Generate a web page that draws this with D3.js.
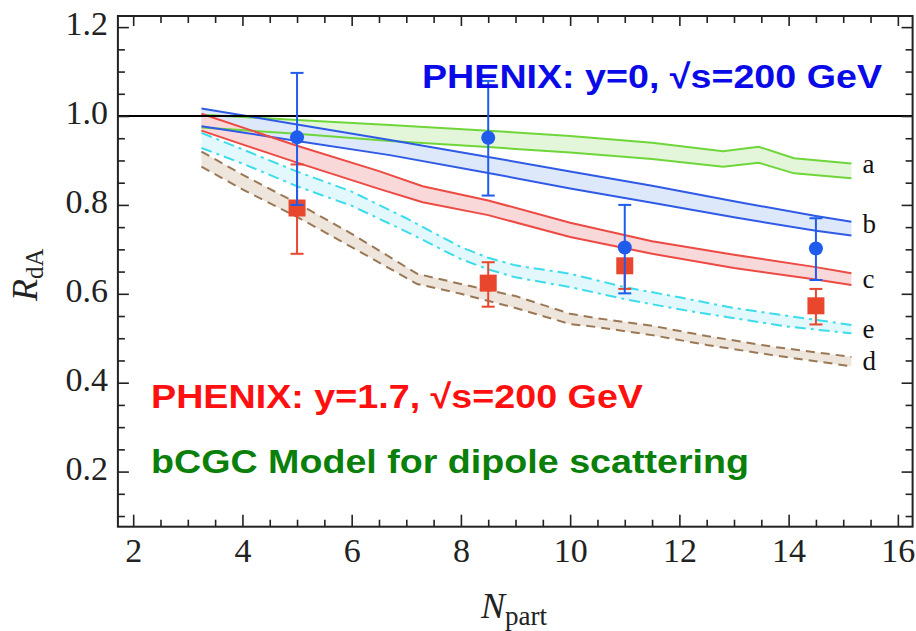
<!DOCTYPE html>
<html>
<head>
<meta charset="utf-8">
<script src="https://cdn.jsdelivr.net/npm/d3@7/dist/d3.min.js"></script>
<style>
  html, body { margin: 0; padding: 0; background: #fff; }
  svg { display: block; }
</style>
</head>
<body>
<svg id="chart" width="916" height="631"></svg>
<script>
// ---- axis ticks ----
const xMajorTicks = [2, 4, 6, 8, 10, 12, 14, 16];
const yMajorTicks = [0.2, 0.4, 0.6, 0.8, 1.0, 1.2];

// ---- bCGC model bands (upper / lower edge of each band) ----
const bandA_x  = [3.25, 5, 6.7, 8.5, 10, 11.5, 12.8, 13.45, 14.1, 15.15];
const bandA_hi = [1.003, 0.991, 0.980, 0.967, 0.955, 0.940, 0.921, 0.931, 0.905, 0.893];
const bandA_lo = [0.974, 0.960, 0.944, 0.930, 0.918, 0.903, 0.886, 0.895, 0.871, 0.860];

const bandB_x  = [3.25, 5, 6.7, 8.5, 10, 11.5, 13, 14.5, 15.15];
const bandB_hi = [1.017, 0.981, 0.946, 0.908, 0.875, 0.843, 0.808, 0.775, 0.762];
const bandB_lo = [0.977, 0.944, 0.912, 0.872, 0.837, 0.805, 0.772, 0.742, 0.731];

const bandC_x  = [3.25, 5, 6.5, 7.3, 8.5, 10, 11.5, 13, 14.5, 15.15];
const bandC_hi = [1.005, 0.933, 0.876, 0.842, 0.810, 0.760, 0.718, 0.688, 0.660, 0.646];
const bandC_lo = [0.967, 0.895, 0.836, 0.806, 0.777, 0.728, 0.690, 0.658, 0.632, 0.620];

const bandE_x  = [3.25, 4, 5, 6, 7, 8, 8.5, 9, 10, 11, 12, 13, 14, 15.15];
const bandE_hi = [0.962, 0.925, 0.875, 0.830, 0.770, 0.705, 0.681, 0.664, 0.645, 0.615, 0.592, 0.568, 0.550, 0.530];
const bandE_lo = [0.928, 0.893, 0.842, 0.798, 0.740, 0.678, 0.655, 0.637, 0.615, 0.588, 0.565, 0.545, 0.526, 0.511];

const bandD_x  = [3.25, 4, 5, 6, 7.2, 8, 9, 10, 10.5, 11.5, 12.5, 13.7, 15.15];
const bandD_hi = [0.920, 0.868, 0.804, 0.735, 0.645, 0.622, 0.595, 0.555, 0.545, 0.528, 0.505, 0.481, 0.458];
const bandD_lo = [0.886, 0.835, 0.773, 0.705, 0.622, 0.600, 0.568, 0.532, 0.525, 0.507, 0.485, 0.462, 0.437];

const bandLabels   = ["a", "b", "c", "e", "d"];
const bandLabelRdA = [0.889, 0.754, 0.630, 0.518, 0.446];   // vertical anchor of each label

// ---- PHENIX data ----
const phenixNpart = [5, 8.5, 11, 14.5];
const midRdA    = [0.952, 0.951, 0.704, 0.702];   // y = 0
const midErrHi  = [1.097, 1.079, 0.800, 0.770];
const midErrLo  = [0.800, 0.821, 0.601, 0.631];
const fwdRdA    = [0.793, 0.624, 0.663, 0.573];   // y = 1.7
const fwdErrHi  = [0.891, 0.671, 0.675, 0.611];
const fwdErrLo  = [0.690, 0.571, 0.611, 0.531];

// ---- layout ----
const svg = d3.select("#chart");
const x = d3.scaleLinear().domain([1.72, 16.27]).range([117.9, 912.6]);
const y = d3.scaleLinear().domain([0.076, 1.225]).range([526.7, 16]);
const [X0, X1] = x.range();
const [Y0, Y1] = y.range();

const serif = "'Liberation Serif', 'Times New Roman', serif";
const sans = "'Liberation Sans', Arial, sans-serif";

// ---- bands ----
const bands = [
  { xs: bandA_x, hi: bandA_hi, lo: bandA_lo, stroke: "#6fd63a", fill: "#e3f6da", dash: null },
  { xs: bandB_x, hi: bandB_hi, lo: bandB_lo, stroke: "#2f5ae6", fill: "#dde9fb", dash: null },
  { xs: bandC_x, hi: bandC_hi, lo: bandC_lo, stroke: "#ec4a43", fill: "#f8d8d8", dash: null },
  { xs: bandE_x, hi: bandE_hi, lo: bandE_lo, stroke: "#3ddcec", fill: "#e2f8fc", dash: "11,5,3,5" },
  { xs: bandD_x, hi: bandD_hi, lo: bandD_lo, stroke: "#9a7856", fill: "#eee5dc", dash: "9,6" }
];

const gBands = svg.append("g");
bands.forEach(b => {
  const pts = b.xs.map((v, i) => ({ x: v, hi: b.hi[i], lo: b.lo[i] }));
  gBands.append("path")
    .datum(pts)
    .attr("fill", b.fill)
    .attr("d", d3.area().x(d => x(d.x)).y0(d => y(d.lo)).y1(d => y(d.hi)));
});
bands.forEach(b => {
  const pts = b.xs.map((v, i) => ({ x: v, hi: b.hi[i], lo: b.lo[i] }));
  ["hi", "lo"].forEach(k => {
    gBands.append("path")
      .datum(pts)
      .attr("fill", "none")
      .attr("stroke", b.stroke)
      .attr("stroke-width", 2)
      .attr("stroke-dasharray", b.dash)
      .attr("d", d3.line().x(d => x(d.x)).y(d => y(d[k])));
  });
});

// band labels at the right end
svg.append("g").selectAll("text")
  .data(bandLabels)
  .join("text")
  .attr("x", 862.5)
  .attr("y", (d, i) => y(bandLabelRdA[i]) + 8)
  .attr("font-family", serif)
  .attr("font-size", 27)
  .attr("fill", "#111")
  .text(d => d);

// reference line at R_dA = 1
svg.append("line")
  .attr("x1", X0).attr("x2", X1)
  .attr("y1", y(1)).attr("y2", y(1))
  .attr("stroke", "#000").attr("stroke-width", 2);

// ---- data points ----
function drawSeries(vals, hi, lo, color, shape) {
  const g = svg.append("g").attr("stroke", color).attr("fill", color);
  phenixNpart.forEach((n, i) => {
    const cx = x(n);
    g.append("line").attr("x1", cx).attr("x2", cx)
      .attr("y1", y(hi[i])).attr("y2", y(lo[i])).attr("stroke-width", 2);
    [hi[i], lo[i]].forEach(v => {
      g.append("line").attr("x1", cx - 6.5).attr("x2", cx + 6.5)
        .attr("y1", y(v)).attr("y2", y(v)).attr("stroke-width", 2);
    });
    if (shape === "square") {
      g.append("rect").attr("x", cx - 8.5).attr("y", y(vals[i]) - 8.5)
        .attr("width", 17).attr("height", 17).attr("stroke", "none");
    } else {
      g.append("circle").attr("cx", cx).attr("cy", y(vals[i])).attr("r", 7)
        .attr("stroke", "none");
    }
  });
}
drawSeries(fwdRdA, fwdErrHi, fwdErrLo, "#e8472e", "square");
drawSeries(midRdA, midErrHi, midErrLo, "#1f5cec", "circle");

// ---- frame and ticks ----
const xMinor = d3.range(2, 16.01, 0.5).filter(v => !xMajorTicks.includes(v));
const yMinor = d3.range(0.1, 1.2001, 0.05).map(v => +v.toFixed(2))
  .filter(v => !yMajorTicks.some(t => Math.abs(t - v) < 1e-6));

function styleAxis(g) {
  g.select(".domain").remove();
  g.selectAll(".tick line").attr("stroke", "#222").attr("stroke-width", 1.6);
  g.selectAll(".tick text").attr("font-family", serif).attr("font-size", 34).attr("fill", "#222");
}

svg.append("g").attr("transform", `translate(0,${Y0})`)
  .call(d3.axisBottom(x).tickValues(xMajorTicks).tickFormat(d3.format("d"))
    .tickSizeInner(-12).tickSizeOuter(0).tickPadding(11))
  .call(styleAxis);
svg.append("g").attr("transform", `translate(0,${Y0})`)
  .call(d3.axisBottom(x).tickValues(xMinor).tickFormat("").tickSizeInner(-7).tickSizeOuter(0))
  .call(styleAxis);
svg.append("g").attr("transform", `translate(0,${Y1})`)
  .call(d3.axisTop(x).tickValues(xMajorTicks).tickFormat("").tickSizeInner(-10).tickSizeOuter(0))
  .call(styleAxis);
svg.append("g").attr("transform", `translate(0,${Y1})`)
  .call(d3.axisTop(x).tickValues(xMinor).tickFormat("").tickSizeInner(-7).tickSizeOuter(0))
  .call(styleAxis);

svg.append("g").attr("transform", `translate(${X0},0)`)
  .call(d3.axisLeft(y).tickValues(yMajorTicks).tickFormat(d3.format(".1f"))
    .tickSizeInner(-11).tickSizeOuter(0).tickPadding(10))
  .call(styleAxis)
  .call(g => g.selectAll(".tick text").attr("dy", "0.22em"));
svg.append("g").attr("transform", `translate(${X0},0)`)
  .call(d3.axisLeft(y).tickValues(yMinor).tickFormat("").tickSizeInner(-7).tickSizeOuter(0))
  .call(styleAxis);
svg.append("g").attr("transform", `translate(${X1},0)`)
  .call(d3.axisRight(y).tickValues(yMajorTicks).tickFormat("").tickSizeInner(-11).tickSizeOuter(0))
  .call(styleAxis);
svg.append("g").attr("transform", `translate(${X1},0)`)
  .call(d3.axisRight(y).tickValues(yMinor).tickFormat("").tickSizeInner(-7).tickSizeOuter(0))
  .call(styleAxis);

svg.append("rect")
  .attr("x", X0).attr("y", Y1).attr("width", X1 - X0).attr("height", Y0 - Y1)
  .attr("fill", "none").attr("stroke", "#222").attr("stroke-width", 2);

// ---- axis titles ----
const xt = svg.append("text").attr("x", 481).attr("y", 618)
  .attr("font-family", serif).attr("fill", "#222");
xt.append("tspan").attr("font-style", "italic").attr("font-size", 36).text("N");
xt.append("tspan").attr("font-size", 27).attr("dy", 7).text("part");

const yt = svg.append("text").attr("transform", "translate(37,301) rotate(-90)")
  .attr("font-family", serif).attr("fill", "#222");
yt.append("tspan").attr("font-style", "italic").attr("font-size", 36).text("R");
yt.append("tspan").attr("font-size", 25).attr("dy", 6).text("dA");

// ---- annotations ----
const notes = [
  { text: "PHENIX: y=0, \u221As=200 GeV", x: 422, y: 88, w: 460, color: "#0a0ae8" },
  { text: "PHENIX: y=1.7, \u221As=200 GeV", x: 151, y: 408, w: 492, color: "#ff1010" },
  { text: "bCGC Model for dipole scattering", x: 151, y: 473, w: 598, color: "#0a7f0a" }
];
svg.append("g").selectAll("text")
  .data(notes)
  .join("text")
  .attr("x", d => d.x).attr("y", d => d.y)
  .attr("font-family", sans).attr("font-weight", "bold").attr("font-size", 34)
  .attr("textLength", d => d.w).attr("lengthAdjust", "spacingAndGlyphs")
  .attr("fill", d => d.color)
  .text(d => d.text);
</script>
</body>
</html>
